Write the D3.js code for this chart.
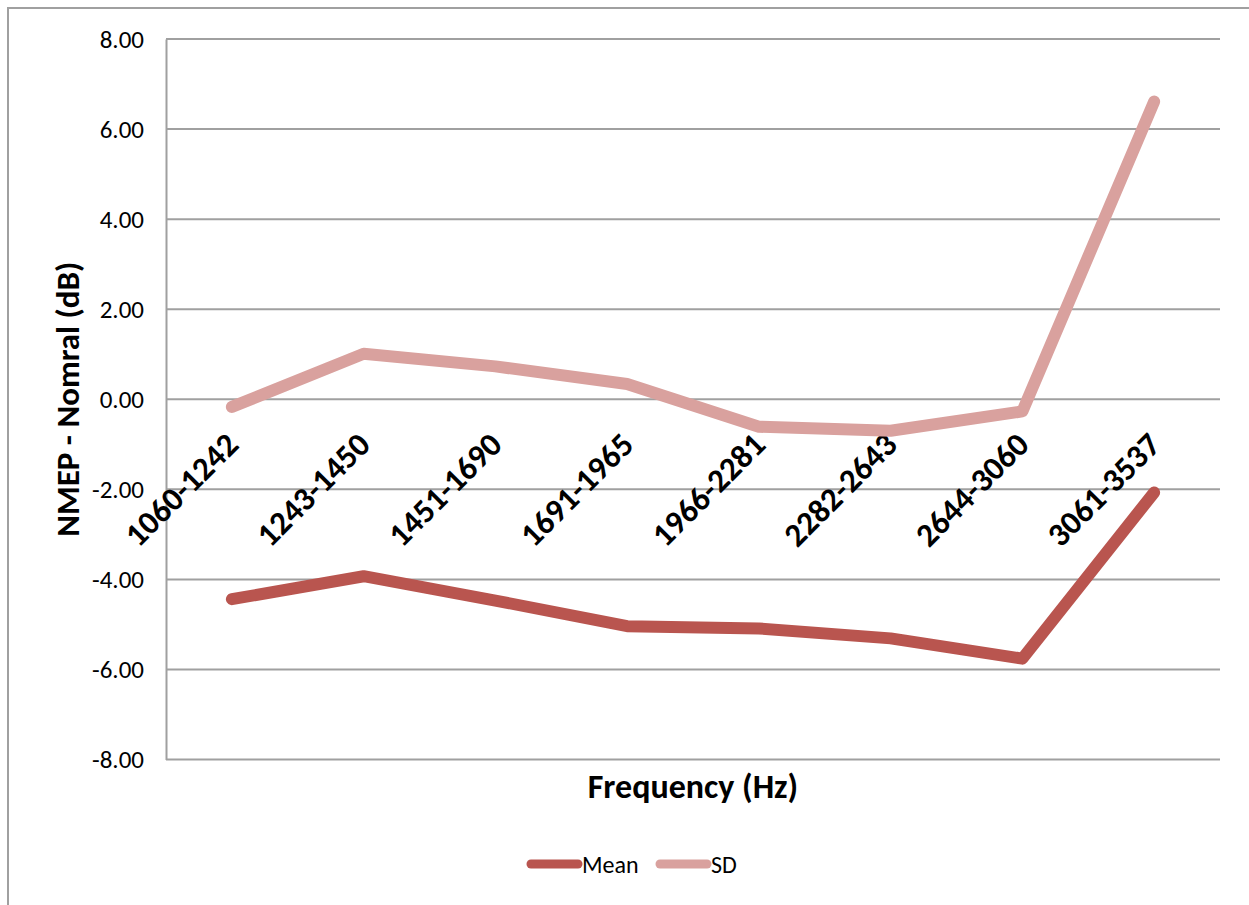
<!DOCTYPE html>
<html>
<head>
<meta charset="utf-8">
<script src="https://cdn.jsdelivr.net/npm/d3@7"></script>
<style>
  html, body { margin: 0; padding: 0; background: #fff; }
  svg { display: block; }
  text { font-family: Carlito, Lato, sans-serif; fill: #000; }
</style>
</head>
<body>
<svg id="chart" width="1249" height="905"></svg>
<script>
// Frequency bands (Hz)
const categories = ["1060-1242", "1243-1450", "1451-1690", "1691-1965",
                    "1966-2281", "2282-2643", "2644-3060", "3061-3537"];
// NMEP minus normal, dB
const meanValues = [-4.44, -3.93, -4.47, -5.04, -5.09, -5.31, -5.76, -2.07];
const sdValues   = [-0.17, 1.01, 0.73, 0.34, -0.61, -0.70, -0.27, 6.61];
const yTicks = [-8, -6, -4, -2, 0, 2, 4, 6, 8];
const seriesNames = ["Mean", "SD"];
const seriesColors = ["#B9554F", "#D9A19E"];

const svg = d3.select("#chart");
const plot = { left: 166, right: 1220, top: 39, bottom: 759.5 };
const gridColor = "#A0A0A0";

// chart frame
svg.append("path")
  .attr("d", "M8,910 V8 H1260")
  .attr("fill", "none").attr("stroke", gridColor).attr("stroke-width", 2);

const x = d3.scalePoint().domain(categories).range([plot.left, plot.right]).padding(0.5);
const y = d3.scaleLinear().domain([-8, 8]).range([plot.bottom, plot.top]);

// horizontal gridlines
svg.append("g").selectAll("line").data(yTicks).join("line")
  .attr("x1", plot.left).attr("x2", plot.right)
  .attr("y1", d => y(d)).attr("y2", d => y(d))
  .attr("stroke", gridColor).attr("stroke-width", 2);

// value axis (plain hyphen for negatives)
const fmt = d3.format(".2f");
const yAxis = d3.axisLeft(y).tickValues(yTicks).tickSize(0).tickPadding(22)
  .tickFormat(d => fmt(d).replace("\u2212", "-"));
const gy = svg.append("g").attr("transform", `translate(${plot.left},0)`).call(yAxis);
gy.select(".domain").attr("stroke", gridColor).attr("stroke-width", 2);
gy.selectAll("text").attr("font-size", 25).attr("fill", "#000")
  .style("font-family", "Carlito, Lato, sans-serif");

// category labels, rotated, hanging below the zero line
svg.append("g").selectAll("text").data(categories).join("text")
  .attr("transform", d => `translate(${x(d)},${y(0) + 39}) rotate(-45)`)
  .attr("text-anchor", "end")
  .attr("dy", "0.36em")
  .attr("font-size", 33).attr("font-weight", "bold")
  .text(d => d);

// series lines
const line = d3.line().x((d, i) => x(categories[i])).y(d => y(d));
[meanValues, sdValues].forEach((vals, k) => {
  svg.append("path").datum(vals)
    .attr("d", line)
    .attr("fill", "none")
    .attr("stroke", seriesColors[k])
    .attr("stroke-width", 12)
    .attr("stroke-linecap", "round")
    .attr("stroke-linejoin", "round");
});

// axis titles
svg.append("text")
  .attr("transform", `translate(67,${(plot.top + plot.bottom) / 2}) rotate(-90)`)
  .attr("text-anchor", "middle").attr("dy", "0.36em")
  .attr("font-size", 33).attr("font-weight", "bold")
  .text("NMEP - Nomral (dB)");

svg.append("text")
  .attr("x", (plot.left + plot.right) / 2).attr("y", 798)
  .attr("text-anchor", "middle")
  .attr("font-size", 34).attr("font-weight", "bold")
  .text("Frequency (Hz)");

// legend
const legendItems = [{ x: 527 }, { x: 656 }];
const lg = svg.append("g");
seriesNames.forEach((name, k) => {
  const x0 = legendItems[k].x;
  lg.append("line")
    .attr("x1", x0 + 4).attr("x2", x0 + 51)
    .attr("y1", 864).attr("y2", 864)
    .attr("stroke", seriesColors[k]).attr("stroke-width", 9)
    .attr("stroke-linecap", "round");
  lg.append("text")
    .attr("x", x0 + 55).attr("y", 873)
    .attr("font-size", 24)
    .text(name);
});
</script>
</body>
</html>
